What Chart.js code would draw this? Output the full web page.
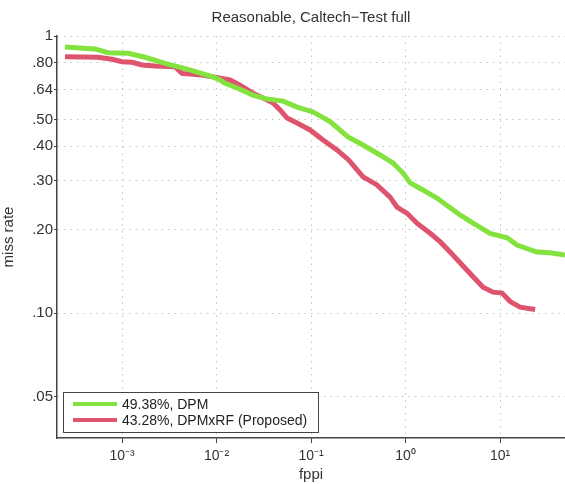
<!DOCTYPE html>
<html>
<head>
<meta charset="utf-8">
<script src="https://cdn.jsdelivr.net/npm/chart.js@4"></script>
<style>
  html, body { margin: 0; padding: 0; background: #fff; }
</style>
</head>
<body>
<canvas id="missRateChart" width="565" height="484"></canvas>
<script>
// x = false positives per image, y = miss rate
const dpmFppi = [2.49e-4, 5.18e-4, 7.11e-4, 1.16e-3, 1.75e-3, 2.85e-3, 4.99e-3, 8.96e-3, 0.0109, 0.0123, 0.0165, 0.0243, 0.0342, 0.0506, 0.0711, 0.105, 0.159, 0.246, 0.355, 0.537, 0.738, 0.941, 1.12, 1.53, 2.15, 2.82, 3.78, 5.18, 7.84, 11.9, 15.1, 24.6, 33.8, 48.7];
const dpmMiss = [0.913, 0.898, 0.870, 0.866, 0.838, 0.797, 0.758, 0.713, 0.694, 0.675, 0.649, 0.612, 0.592, 0.582, 0.554, 0.532, 0.491, 0.432, 0.404, 0.372, 0.348, 0.320, 0.295, 0.278, 0.260, 0.243, 0.226, 0.211, 0.194, 0.187, 0.176, 0.166, 0.165, 0.162];

const rfFppi = [2.49e-4, 5.57e-4, 7.84e-4, 1e-3, 1.28e-3, 1.63e-3, 2.23e-3, 3.64e-3, 4.31e-3, 7.03e-3, 0.0114, 0.0139, 0.0177, 0.0243, 0.0311, 0.0396, 0.047, 0.0557, 0.0711, 0.0976, 0.134, 0.188, 0.25, 0.355, 0.499, 0.686, 0.813, 1.04, 1.32, 1.82, 2.32, 2.96, 3.78, 4.82, 6.61, 8.44, 10.5, 12.8, 16.3, 23.5];
const rfMiss = [0.842, 0.838, 0.824, 0.808, 0.804, 0.786, 0.779, 0.775, 0.733, 0.723, 0.703, 0.694, 0.665, 0.622, 0.597, 0.573, 0.541, 0.506, 0.485, 0.458, 0.421, 0.388, 0.357, 0.310, 0.290, 0.262, 0.241, 0.229, 0.211, 0.194, 0.181, 0.166, 0.152, 0.139, 0.124, 0.119, 0.118, 0.110, 0.105, 0.103];

const seriesLabels = ['49.38%, DPM', '43.28%, DPMxRF (Proposed)'];

const xTicks = [1e-3, 1e-2, 1e-1, 1, 10];
const xTickLabels = ['10\u207B\u00B3', '10\u207B\u00B2', '10\u207B\u00B9', '10\u2070', '10\u00B9'];
const yTicks = [0.05, 0.10, 0.20, 0.30, 0.40, 0.50, 0.64, 0.80, 1];
const yTickLabels = ['.05', '.10', '.20', '.30', '.40', '.50', '.64', '.80', '1'];

const FONT = '"Liberation Sans", Arial, sans-serif';
const toPoints = (xs, ys) => xs.map((x, i) => ({ x: x, y: ys[i] }));

// legend box drawn inside the plot, bottom-left like the matlab one
const insideLegend = {
  id: 'insideLegend',
  afterDraw(chart) {
    const ctx = chart.ctx;
    const area = chart.chartArea;
    const x0 = area.left + 6, y0 = area.bottom - 46, w = 255, h = 40;
    ctx.save();
    ctx.fillStyle = '#fff';
    ctx.fillRect(x0, y0, w, h);
    ctx.strokeStyle = '#444';
    ctx.lineWidth = 1;
    ctx.strokeRect(x0 + 0.5, y0 + 0.5, w, h);
    ctx.font = '14px ' + FONT;
    ctx.textBaseline = 'middle';
    chart.data.datasets.forEach((ds, i) => {
      const y = y0 + 12 + i * 16;
      ctx.strokeStyle = ds.borderColor;
      ctx.lineWidth = 4;
      ctx.beginPath();
      ctx.moveTo(x0 + 10, y);
      ctx.lineTo(x0 + 54, y);
      ctx.stroke();
      ctx.fillStyle = '#222';
      ctx.fillText(ds.label, x0 + 59, y + 1);
    });
    ctx.restore();
  }
};

new Chart(document.getElementById('missRateChart').getContext('2d'), {
  type: 'line',
  data: {
    datasets: [{
      label: seriesLabels[0],
      data: toPoints(dpmFppi, dpmMiss),
      borderColor: 'rgb(132,226,62)',
      borderWidth: 5,
      pointRadius: 0,
      tension: 0,
      fill: false
    }, {
      label: seriesLabels[1],
      data: toPoints(rfFppi, rfMiss),
      borderColor: 'rgb(222,84,110)',
      borderWidth: 5,
      pointRadius: 0,
      tension: 0,
      fill: false
    }]
  },
  options: {
    responsive: false,
    animation: false,
    layout: { padding: 0 },
    scales: {
      x: {
        type: 'logarithmic',
        min: 2.05e-4,
        max: 48.7,
        afterBuildTicks: scale => { scale.ticks = xTicks.map(v => ({ value: v })); },
        afterFit: scale => { scale.height = 46; },
        ticks: {
          autoSkip: false,
          maxRotation: 0,
          padding: 5,
          color: '#333',
          font: { family: FONT, size: 14 },
          callback: (value, index) => xTickLabels[index]
        },
        grid: { color: '#c4c4c4', lineWidth: 1, tickLength: 5, tickColor: '#444' },
        border: { display: true, color: '#444', width: 1.5, dash: [1.5, 5] },
        title: {
          display: true,
          text: 'fppi',
          color: '#333',
          padding: { top: 0, bottom: 0 },
          font: { family: FONT, size: 15 }
        }
      },
      y: {
        type: 'logarithmic',
        min: 0.0354,
        max: 1,
        afterBuildTicks: scale => { scale.ticks = yTicks.map(v => ({ value: v })); },
        afterFit: scale => { scale.width = 57; },
        ticks: {
          autoSkip: false,
          padding: 1,
          color: '#333',
          font: { family: FONT, size: 15 },
          callback: (value, index) => yTickLabels[index]
        },
        grid: { color: '#c4c4c4', lineWidth: 1, tickLength: 3, tickColor: '#444' },
        border: { display: true, color: '#444', width: 1.5, dash: [1.5, 5] },
        title: {
          display: true,
          text: 'miss rate',
          color: '#333',
          padding: { top: 0, bottom: 0 },
          font: { family: FONT, size: 15 }
        }
      }
    },
    plugins: {
      legend: { display: false },
      tooltip: { enabled: false },
      title: {
        display: true,
        fullSize: false,
        text: 'Reasonable, Caltech\u2212Test full',
        color: '#333',
        padding: { top: 9, bottom: 9 },
        font: { family: FONT, size: 15, weight: 'normal' }
      }
    }
  },
  plugins: [insideLegend]
});
</script>
</body>
</html>
